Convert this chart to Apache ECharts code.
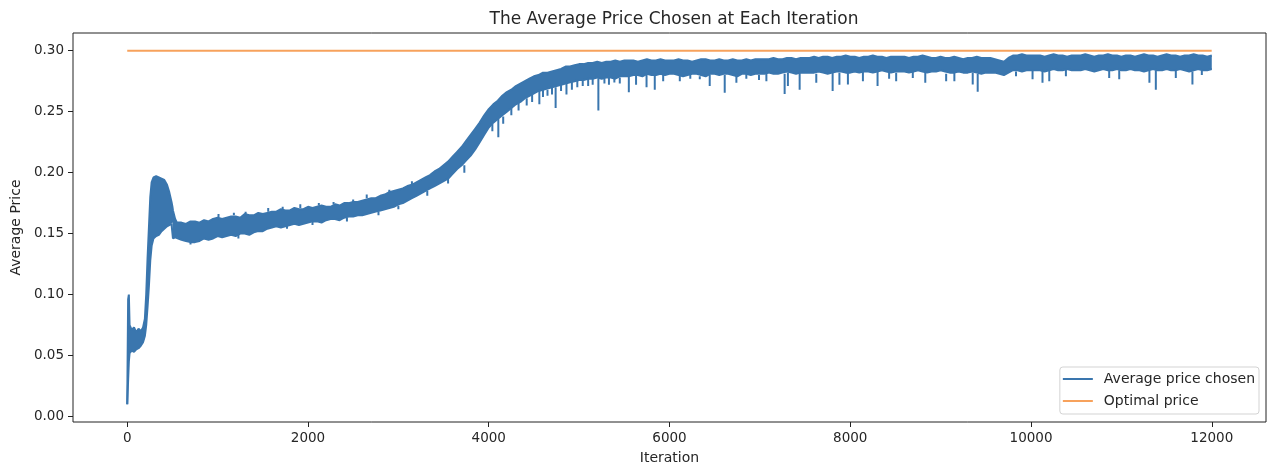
<!DOCTYPE html>
<html><head><meta charset="utf-8">
<script src="https://cdn.jsdelivr.net/npm/echarts@6/dist/echarts.min.js"></script>
<style>html,body{margin:0;padding:0;background:#fff}#c{width:1268px;height:468px}</style>
</head><body><div id="c"></div><script>
// ---- data ----
const xTicks = [0, 2000, 4000, 6000, 8000, 10000, 12000];
const yTicks = [0, 0.05, 0.10, 0.15, 0.20, 0.25, 0.30];

// upper / lower edge of the noisy "Average price chosen" trace, first iterations
const earlyIter   = [0, 10, 18, 26, 50, 75, 100, 125, 150, 175, 195, 210, 225, 240, 255, 270, 290, 320, 350, 380, 410, 440, 465, 490, 500, 506, 530];
const earlyTop    = [.010,.096,.100,.075,.071,.073,.069,.072,.070,.073,.080,.100,.130,.155,.180,.192,.196,.197,.196,.195,.194,.190,.184,.176,.172,.169,.162];
const earlyBottom = [.010,.030,.045,.052,.054,.053,.055,.056,.058,.061,.066,.075,.090,.107,.128,.140,.146,.148,.149,.152,.154,.156,.157,.158,.159,.146,.147];

// upper / lower edge from iteration 550 to 12000, one reading every 50 iterations
const bandStartIter = 550, bandStepIter = 50;
const topEdge = [
.159,.159,.158,.160,.160,.159,.161,.160,.162,.163,
.162,.163,.164,.164,.163,.166,.165,.165,.167,.166,
.167,.168,.168,.170,.169,.169,.171,.170,.170,.172,
.171,.172,.173,.172,.172,.174,.173,.175,.175,.176,
.176,.177,.178,.179,.179,.181,.182,.184,.185,.186,
.187,.189,.190,.192,.194,.196,.198,.201,.203,.206,
.209,.213,.217,.221,.226,.231,.236,.241,.247,.252,
.256,.259,.263,.266,.268,.271,.273,.275,.277,.279,
.280,.282,.282,.283,.284,.285,.287,.287,.288,.289,
.289,.290,.290,.291,.290,.291,.291,.292,.291,.292,
.292,.292,.291,.292,.293,.292,.292,.293,.292,.292,
.292,.293,.292,.292,.291,.292,.293,.293,.292,.292,
.293,.292,.292,.293,.292,.292,.293,.292,.293,.293,
.293,.293,.294,.293,.293,.294,.294,.293,.294,.294,
.294,.295,.294,.295,.295,.294,.295,.295,.296,.295,
.295,.294,.295,.295,.296,.295,.295,.294,.295,.295,
.295,.295,.294,.295,.295,.296,.295,.294,.294,.295,
.294,.294,.295,.294,.293,.294,.294,.295,.294,.294,
.294,.293,.292,.291,.294,.296,.296,.297,.296,.296,
.296,.296,.295,.296,.297,.296,.296,.295,.296,.296,
.296,.297,.296,.295,.296,.296,.297,.296,.296,.295,
.296,.296,.295,.296,.297,.296,.296,.295,.296,.297,
.296,.296,.295,.296,.296,.297,.296,.296,.295,.296];
const bottomEdge = [
.147,.145,.144,.143,.143,.144,.146,.145,.146,.148,
.147,.148,.149,.148,.150,.150,.149,.151,.152,.152,
.154,.155,.156,.155,.156,.157,.158,.157,.158,.159,
.160,.160,.159,.161,.162,.162,.161,.163,.164,.164,
.165,.165,.166,.167,.168,.169,.170,.171,.172,.174,
.175,.177,.179,.181,.183,.185,.187,.189,.191,.193,
.195,.199,.203,.206,.210,.214,.219,.225,.231,.237,
.241,.244,.247,.250,.253,.256,.258,.261,.263,.265,
.267,.268,.269,.270,.271,.272,.273,.274,.275,.276,
.276,.277,.277,.278,.277,.278,.278,.277,.279,.279,
.279,.280,.280,.279,.281,.280,.280,.281,.280,.281,
.281,.280,.279,.280,.281,.281,.280,.279,.281,.281,
.280,.281,.281,.280,.279,.281,.281,.280,.281,.281,
.281,.282,.281,.281,.282,.283,.282,.281,.282,.282,
.282,.282,.283,.282,.281,.282,.283,.283,.282,.282,
.283,.282,.283,.283,.282,.283,.284,.283,.282,.283,
.283,.283,.282,.283,.284,.283,.282,.283,.283,.284,
.283,.282,.282,.283,.282,.282,.283,.282,.281,.282,
.282,.282,.281,.280,.282,.284,.284,.283,.284,.284,
.284,.284,.283,.284,.285,.284,.284,.285,.284,.284,
.284,.285,.284,.283,.284,.285,.284,.284,.285,.284,
.284,.285,.284,.284,.283,.284,.285,.284,.284,.285,
.284,.284,.285,.284,.283,.284,.285,.284,.284,.285];

// short excursions of the trace beyond the band: iteration, band edge, extreme value
const spikeIter = [700,1010,1180,1230,1310,1560,1720,1768,1915,2050,2120,2283,2431,2500,2650,2780,2900,3000,3150,3320,3550,3730,4040,4106,4160,4250,4330,4420,4480,4560,4600,4650,4700,4740,4800,4860,4920,4980,5040,5100,5150,5213,5280,5330,5390,5450,5550,5630,5746,5837,5930,6114,6230,6335,6445,6611,6740,6850,6990,7072,7274,7310,7440,7624,7805,7880,7974,8140,8302,8430,8508,8692,8830,9061,9152,9355,9410,9834,10017,10127,10202,10386,10865,10976,11310,11381,11602,11786,11890];
const spikeFrom = [.144,.163,.165,.149,.166,.168,.170,.157,.171,.160,.173,.174,.163,.176,.179,.168,.184,.173,.190,.185,.195,.206,.240,.244,.246,.253,.257,.261,.264,.267,.268,.268,.270,.270,.272,.273,.275,.276,.276,.277,.277,.277,.277,.278,.278,.278,.279,.280,.280,.280,.281,.280,.281,.279,.280,.280,.281,.281,.280,.281,.281,.282,.282,.281,.282,.282,.282,.283,.283,.283,.282,.283,.283,.281,.282,.282,.281,.283,.284,.284,.284,.285,.285,.284,.284,.284,.284,.283,.284];
const spikeTo   = [.141,.166,.167,.146,.168,.171,.172,.154,.174,.157,.175,.176,.160,.178,.182,.165,.186,.170,.193,.181,.191,.200,.234,.229,.240,.247,.251,.255,.258,.256,.262,.263,.264,.253,.267,.264,.268,.270,.271,.271,.272,.251,.273,.272,.274,.273,.266,.272,.270,.268,.275,.275,.277,.2765,.271,.2655,.2737,.277,.276,.275,.2645,.271,.268,.2737,.267,.272,.2723,.275,.271,.277,.275,.2777,.2737,.275,.275,.2723,.2663,.279,.2765,.2737,.275,.279,.2777,.2765,.2737,.268,.2777,.2723,.280];

const optimalIter = [0, 11999];
const optimalPrice = [0.30, 0.30];

// ---- build series data ----
// band items are [price, iteration] so that the stacked dimension is the price (y) one
const bandIter = earlyIter.concat(topEdge.map((v, i) => bandStartIter + i * bandStepIter));
const bandTop = earlyTop.concat(topEdge);
const bandBottom = earlyBottom.concat(bottomEdge);
const lowerData = bandIter.map((x, i) => [bandBottom[i], x]);
const thickData = bandIter.map((x, i) => [+(bandTop[i] - bandBottom[i]).toFixed(5), x]);
const spikeData = [];
spikeIter.forEach((x, i) => { spikeData.push([x, spikeFrom[i]], [x, spikeTo[i]], [x, '-']); });
const optimalData = optimalIter.map((x, i) => [x, optimalPrice[i]]);

const BLUE = '#3a76ae', ORANGE = '#f7a25c', TXT = '#262626', FONT = 'DejaVu Sans';

const chart = echarts.init(document.getElementById('c'), null, {renderer: 'canvas'});
chart.setOption({
  animation: false,
  backgroundColor: '#fff',
  title: {
    text: 'The Average Price Chosen at Each Iteration',
    left: 669, top: 6, textAlign: 'center',
    textStyle: {fontFamily: FONT, fontSize: 17, fontWeight: 'normal', color: TXT}
  },
  grid: {left: 73, right: 2, top: 33, bottom: 46, outerBoundsMode: 'none', containLabel: false,
         show: true, borderColor: '#222', borderWidth: 1, backgroundColor: 'transparent'},
  legend: {
    orient: 'vertical', right: 9, bottom: 54,
    data: [{name: 'Average price chosen', icon: 'rect'}, {name: 'Optimal price', icon: 'rect'}],
    itemWidth: 30, itemHeight: 2, itemGap: 6,
    padding: [4, 4, 5, 3],
    backgroundColor: 'rgba(255,255,255,0.8)', borderColor: '#d3d3d3', borderWidth: 1, borderRadius: 3,
    textStyle: {fontFamily: FONT, fontSize: 14, color: TXT, lineHeight: 16, padding: [0, 0, 0, 6]}
  },
  xAxis: {
    type: 'value', min: -600, max: 12600,
    name: 'Iteration', nameLocation: 'middle', nameGap: 29,
    nameTextStyle: {fontFamily: FONT, fontSize: 14, color: TXT},
    axisLine: {show: false, onZero: false},
    splitLine: {show: false},
    axisTick: {show: true, length: 5, lineStyle: {color: '#222'}, customValues: xTicks},
    axisLabel: {fontFamily: FONT, fontSize: 13.5, color: TXT, margin: 9, customValues: xTicks, formatter: v => String(v)}
  },
  yAxis: {
    type: 'value', min: -0.0045, max: 0.3145,
    name: 'Average Price', nameLocation: 'middle', nameGap: 48,
    nameTextStyle: {fontFamily: FONT, fontSize: 14, color: TXT},
    axisLine: {show: false, onZero: false},
    splitLine: {show: false},
    axisTick: {show: true, length: 5, lineStyle: {color: '#222'}, customValues: yTicks},
    axisLabel: {fontFamily: FONT, fontSize: 13.5, color: TXT, margin: 9, customValues: yTicks, formatter: v => v.toFixed(2)}
  },
  series: [
    {name: 'bandLower', type: 'line', stack: 'band', data: lowerData, encode: {x: 1, y: 0}, showSymbol: false, symbol: 'none',
     itemStyle: {color: BLUE}, lineStyle: {color: BLUE, width: 2}},
    {name: 'Average price chosen', type: 'line', stack: 'band', data: thickData, encode: {x: 1, y: 0}, showSymbol: false, symbol: 'none',
     itemStyle: {color: BLUE}, lineStyle: {color: BLUE, width: 2}, areaStyle: {color: BLUE, opacity: 1}},
    {name: 'spikes', type: 'line', data: spikeData, showSymbol: false, symbol: 'none', connectNulls: false,
     itemStyle: {color: BLUE}, lineStyle: {color: BLUE, width: 2}},
    {name: 'Optimal price', type: 'line', data: optimalData, showSymbol: false, symbol: 'none',
     itemStyle: {color: ORANGE}, lineStyle: {color: ORANGE, width: 2}}
  ]
});
</script></body></html>
